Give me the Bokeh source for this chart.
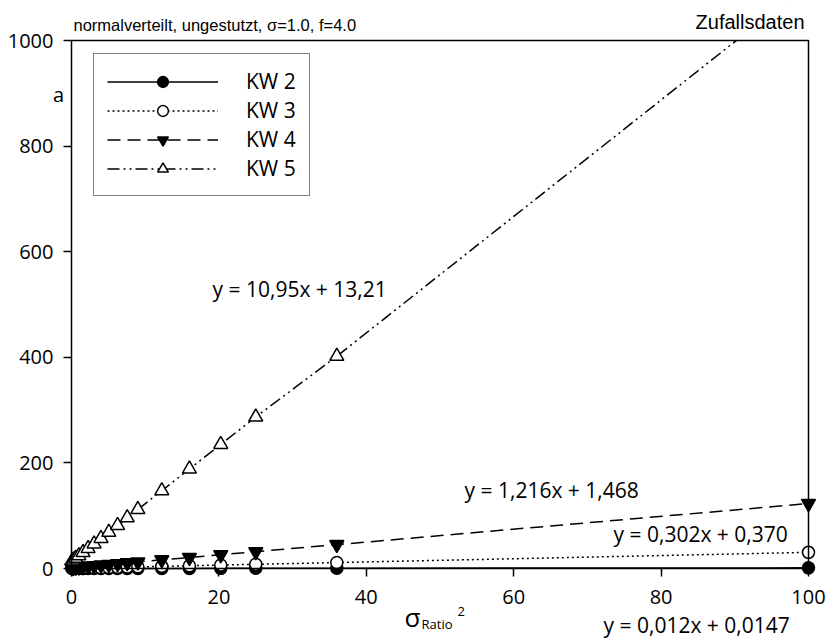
from bokeh.plotting import figure
from bokeh.models import Range1d, Label, Legend, LegendItem, FixedTicker
from bokeh.embed import file_html
from bokeh.resources import INLINE

# ---------------- data ----------------
sigma_ratio_sq = [0.0625, 0.25, 0.5625, 1.0, 1.5625, 2.25, 3.0625, 4.0, 5.0625,
                  6.25, 7.5625, 9.0, 12.25, 16.0, 20.25, 25.0, 36.0, 100.0]
kw2 = [0.015, 0.018, 0.021, 0.027, 0.033, 0.042, 0.051, 0.063, 0.075,
       0.09, 0.105, 0.123, 0.162, 0.207, 0.258, 0.315, 0.447, 1.215]
kw3 = [0.39, 0.45, 0.54, 0.67, 0.84, 1.05, 1.29, 1.58, 1.90,
       2.26, 2.65, 3.09, 4.07, 5.20, 6.49, 7.92, 11.24, 30.57]
kw4 = [1.54, 1.77, 2.15, 2.68, 3.37, 4.20, 5.19, 6.33, 7.62,
       9.07, 10.66, 12.41, 16.36, 20.92, 26.09, 31.87, 45.24, 123.07]
kw5 = [13.9, 16.0, 19.4, 24.2, 30.3, 37.9, 46.7, 57.0, 68.6,
       81.6, 96.0, 111.8, 147.3, 188.4, 235.0, 287.0, 402.0, 1108.0]

series_names = ["KW 2", "KW 3", "KW 4", "KW 5"]
equations = ["y = 0,012x + 0,0147", "y = 0,302x + 0,370",
             "y = 1,216x + 1,468", "y = 10,95x + 13,21"]
x_ticks = [0, 20, 40, 60, 80, 100]
y_ticks = [0, 200, 400, 600, 800, 1000]
title_left = "normalverteilt, ungestutzt, \u03c3=1.0, f=4.0"
title_right = "Zufallsdaten"
y_label = "a"

# ---------------- layout ----------------
W, H = 827, 639
X0, X1 = x_ticks[0], x_ticks[-1]
Y0, Y1 = y_ticks[0], y_ticks[-1]
ORG_X, ORG_Y = 71, 568            # pixel of (X0, Y0)
px_x = 737.0 / (X1 - X0)          # pixels per x unit
px_y = 528.0 / (Y1 - Y0)          # pixels per y unit

xs, xe = X0 - ORG_X / px_x, X0 + (W - ORG_X) / px_x
ys, ye = Y0 - (H - ORG_Y) / px_y, Y0 + ORG_Y / px_y

FONT = "Open Sans"
ARIAL = "Liberation Sans"

p = figure(width=W, height=H, output_backend="svg", toolbar_location=None,
           x_range=Range1d(xs, xe), y_range=Range1d(ys, ye),
           min_border=0)
p.outline_line_color = None
p.grid.visible = False
p.background_fill_color = "white"
p.border_fill_color = "white"

for ax, ticks, bounds in ((p.xaxis[0], x_ticks, (X0, X1)), (p.yaxis[0], y_ticks, (Y0, Y1))):
    ax.ticker = FixedTicker(ticks=ticks)
    ax.bounds = bounds
    ax.axis_line_color = "black"
    ax.axis_line_width = 1.5
    ax.major_tick_line_color = "black"
    ax.major_tick_line_width = 1.5
    ax.major_tick_out = 8
    ax.major_tick_in = 0
    ax.minor_tick_line_color = None
    ax.major_label_text_font = FONT
    ax.major_label_text_font_size = "20px"
    ax.major_label_text_color = "black"
p.xaxis[0].fixed_location = Y0
p.yaxis[0].fixed_location = X0
p.xaxis[0].major_label_standoff = 13
p.yaxis[0].major_label_standoff = 10

styles = [
    dict(dash="solid", marker="circle", fill="black", size=12),
    dict(dash="2 3", marker="circle", fill="white", size=12),
    dict(dash="13 7", marker="inverted_triangle", fill="black", size=14),
    dict(dash="12 4 2 4 2 4", marker="triangle", fill="white", size=14),
]
data = [kw2, kw3, kw4, kw5]
items = []
for name, yv, st in zip(series_names, data, styles):
    lr = p.line(sigma_ratio_sq, yv, line_color="black", line_width=1.5, line_dash=st["dash"])
    sr = p.scatter(sigma_ratio_sq, yv, marker=st["marker"], size=st["size"],
                   fill_color=st["fill"], line_color="black", line_width=1.5)
    items.append(LegendItem(label=name, renderers=[lr, sr]))

# everything above the axes box is hidden (clip at y = Y1)
p.quad(left=xs - 10, right=xe + 10, bottom=Y1, top=ye + 100,
       fill_color="white", line_color=None)
# box: top and right sides
p.line([X0, X1, X1], [Y1, Y1, Y0], line_color="black", line_width=1.5)

legend = Legend(items=items, location=(93, H - 196), orientation="vertical",
                border_line_color="black", border_line_width=1,
                background_fill_color="white", background_fill_alpha=1,
                padding=13, spacing=1, margin=0,
                glyph_width=111, glyph_height=27, label_standoff=28,
                label_text_font=FONT, label_text_font_size="21px",
                label_text_color="black")
p.add_layout(legend, "center")


def dx(px):
    return X0 + (px - ORG_X) / px_x


def dy(py):
    return Y0 + (ORG_Y - py) / px_y


def lab(text, x, y, font=FONT, size="21px", align="left", baseline="middle"):
    p.add_layout(Label(x=x, y=y, text=text, text_font=font, text_font_size=size,
                       text_align=align, text_baseline=baseline, text_color="black"))


# equations
lab(equations[3], dx(212), dy(288))
lab(equations[2], dx(464), dy(489))
lab(equations[1], dx(613), dy(533))
lab(equations[0], dx(603), dy(624))

# titles
lab(title_left, dx(73), dy(24), font=ARIAL, size="16.5px")
lab(title_right, dx(804), dy(21), font=ARIAL, size="20px", align="right")

# axis labels
lab(y_label, dx(58), dy(94), size="20px", align="center")
lab("\u03c3", dx(404), dy(616), size="26px")
lab("Ratio", dx(421), dy(623), size="13px")
lab("2", dx(457), dy(611), size="13px")

open("out.html", "w").write(file_html(p, INLINE))
